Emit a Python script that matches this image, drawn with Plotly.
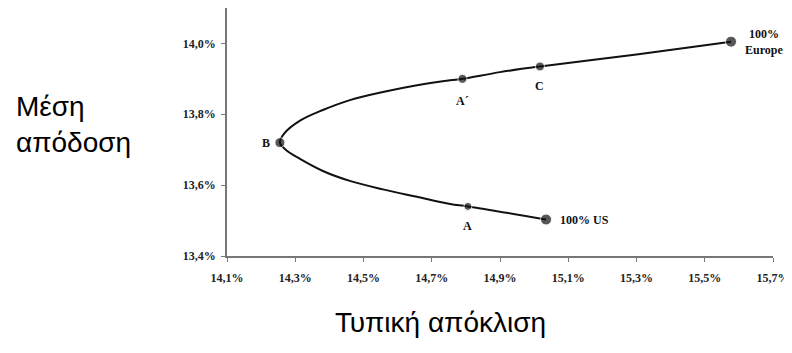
import plotly.graph_objects as go

# Efficient frontier curve (std dev %, mean return %)
curve_x = [15.035, 14.806, 14.754, 14.657, 14.557, 14.460, 14.381, 14.314, 14.272, 14.255,
           14.268, 14.314, 14.381, 14.460, 14.557, 14.657, 14.754, 14.790, 14.900, 15.017,
           15.300, 15.577]
curve_y = [13.503, 13.540, 13.547, 13.567, 13.588, 13.612, 13.640, 13.674, 13.700, 13.720,
           13.746, 13.782, 13.812, 13.840, 13.863, 13.882, 13.896, 13.900, 13.919, 13.935,
           13.969, 14.005]

# Marked portfolios
pt_names = ["100% US", "A", "B", "A´", "C", "100%<br>Europe"]
pt_x = [15.035, 14.806, 14.255, 14.790, 15.017, 15.577]
pt_y = [13.503, 13.540, 13.720, 13.900, 13.935, 14.005]
pt_size = [11, 8, 10, 9, 9, 11]

x_ticks = [14.1, 14.3, 14.5, 14.7, 14.9, 15.1, 15.3, 15.5, 15.7]
x_ticktext = ["14,1%", "14,3%", "14,5%", "14,7%", "14,9%", "15,1%", "15,3%", "15,5%", "15,7%"]
y_ticks = [13.4, 13.6, 13.8, 14.0]
y_ticktext = ["13,4%", "13,6%", "13,8%", "14,0%"]

x_title = "Τυπική απόκλιση"
y_title = "Μέση<br>απόδοση"

# page is rendered with an 8px body offset
OFF = 8
W, H = 792 - OFF, 353 - 2 * OFF
L, R, T, B = 227 - OFF, 19, 0, 97 - OFF
pw, ph = W - L - R, H - T - B

fig = go.Figure()
fig.add_trace(go.Scatter(x=curve_x, y=curve_y, mode="lines",
                         line=dict(color="#111", width=2, shape="spline", smoothing=1.0),
                         hoverinfo="skip", showlegend=False))
fig.add_trace(go.Scatter(x=pt_x, y=pt_y, mode="markers",
                         marker=dict(color="#111", size=pt_size),
                         hoverinfo="skip", showlegend=False))

serif = "Liberation Serif, Times New Roman, serif"
label_font = dict(family=serif, size=12, color="#111", weight="bold")
# label placement styles per point: (xanchor, xshift, yshift)
placement = [("left", 12, 0), ("center", 0, -20), ("right", -8, 0),
             ("center", 0, -22), ("center", 0, -20), ("left", 12, 0)]
for name, x, y, (xa, xs, ys) in zip(pt_names, pt_x, pt_y, placement):
    fig.add_annotation(x=x, y=y, text=name, showarrow=False, xanchor=xa, yanchor="middle",
                       xshift=xs, yshift=ys, font=label_font, align="center")

title_font = dict(family="Liberation Sans, Arial, sans-serif", size=28, color="#000")


def to_paper(px, py):
    return (px - OFF - L) / pw, (H - B - (py - OFF)) / ph


tx, ty = to_paper(440, 322)
fig.add_annotation(x=tx, y=ty, xref="paper", yref="paper", text=x_title, showarrow=False,
                   font=title_font, xanchor="center", yanchor="middle")
lx, ly = to_paper(14, 124)
fig.add_annotation(x=lx, y=ly, xref="paper", yref="paper", text=y_title, showarrow=False,
                   font=title_font, align="left", xanchor="left", yanchor="middle")

tick_font = dict(family=serif, size=12, color="#222", weight="bold")
fig.update_layout(
    width=W, height=H, margin=dict(l=L, r=R, t=T, b=B),
    plot_bgcolor="white", paper_bgcolor="white",
    xaxis=dict(range=[14.1, 15.7], tickvals=x_ticks, ticktext=x_ticktext, showgrid=False,
               zeroline=False, showline=True, linecolor="#777", linewidth=1.5,
               ticks="outside", ticklen=4, tickcolor="#777", tickfont=tick_font,
               ticklabelstandoff=6, automargin=False),
    yaxis=dict(range=[13.4, 14.1], tickvals=y_ticks, ticktext=y_ticktext, showgrid=False,
               zeroline=False, showline=True, linecolor="#777", linewidth=1.5,
               ticks="outside", ticklen=4, tickcolor="#777", tickfont=tick_font,
               ticklabelstandoff=3, automargin=False),
)

fig.write_html("out.html")
